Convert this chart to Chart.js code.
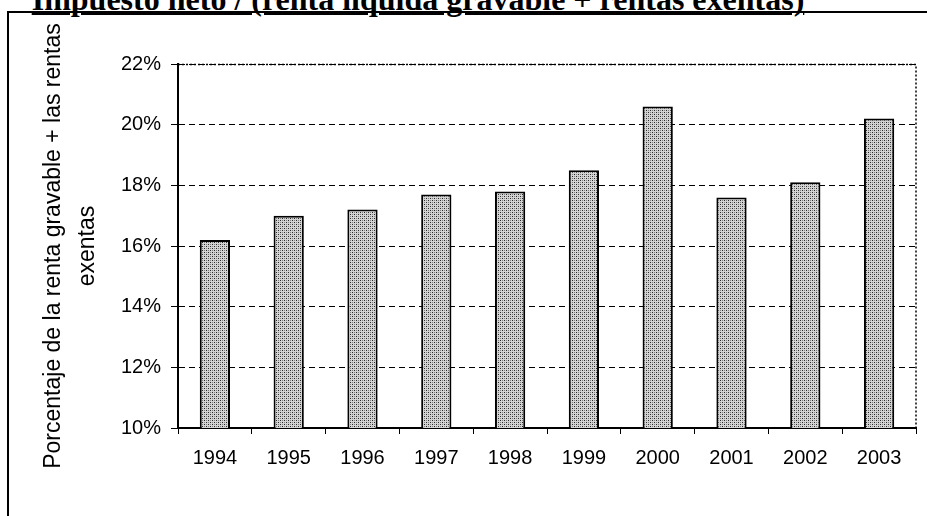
<!DOCTYPE html>
<html>
<head>
<meta charset="utf-8">
<script src="https://cdn.jsdelivr.net/npm/chart.js@4.4.0/dist/chart.umd.min.js"></script>
<style>
  body { margin: 0; background: #fff; }
  #wrap { position: relative; width: 927px; height: 516px; overflow: hidden; }
  #frame { position: absolute; left: 7px; top: 11px; width: 930px; height: 520px;
           border-top: 2px solid #000; border-left: 2px solid #000; }
  #titulo { position: absolute; left: 0; width: 836px; top: -17px; text-align: center;
            font: bold 32px "Liberation Serif", "Times New Roman", serif; line-height: 32px;
            color: #000; white-space: nowrap; text-decoration: underline; }
  canvas { position: absolute; left: 0; top: 0; }
</style>
</head>
<body>
<div id="wrap">
  <div id="titulo">Impuesto neto / (renta líquida gravable + rentas exentas)</div>
  <div id="frame"></div>
  <canvas id="grafico" width="927" height="516"></canvas>
</div>
<script>
const anos = ['1994', '1995', '1996', '1997', '1998', '1999', '2000', '2001', '2002', '2003'];
const porcentajes = [16.2, 17.0, 17.2, 17.7, 17.8, 18.5, 20.6, 17.6, 18.1, 20.2];
const tituloEjeY = ['Porcentaje de la renta gravable + las rentas', 'exentas'];

// trama punteada de las barras
function crearTrama() {
    const c = document.createElement('canvas');
    c.width = 4; c.height = 4;
    const g = c.getContext('2d');
    g.fillStyle = '#d4d4d4';
    g.fillRect(0, 0, 4, 4);
    g.fillStyle = '#2a2a2a';
    g.fillRect(0, 0, 1, 1);
    g.fillRect(2, 2, 1, 1);
    g.fillStyle = '#808080';
    g.fillRect(2, 0, 1, 1);
    g.fillRect(0, 2, 1, 1);
    return g.createPattern(c, 'repeat');
}

// borde punteado arriba y a la derecha del area del grafico
const bordePunteado = {
    id: 'bordePunteado',
    afterDraw(chart) {
        const { ctx, chartArea: a } = chart;
        ctx.save();
        ctx.strokeStyle = '#000';
        ctx.lineWidth = 1.5;
        ctx.setLineDash([2, 2]);
        ctx.beginPath();
        ctx.moveTo(a.left, a.top + 0.5);
        ctx.lineTo(a.right, a.top + 0.5);
        ctx.lineTo(a.right, a.bottom);
        ctx.stroke();
        ctx.restore();
    }
};

const ctx = document.getElementById('grafico').getContext('2d');
new Chart(ctx, {
    type: 'bar',
    data: {
        labels: anos,
        datasets: [{
            data: porcentajes,
            backgroundColor: crearTrama(),
            borderColor: '#000',
            borderWidth: 2,
            borderSkipped: 'bottom',
            barPercentage: 0.41,
            categoryPercentage: 1
        }]
    },
    options: {
        responsive: false,
        animation: false,
        layout: { padding: { left: 0, right: 11, top: 64, bottom: 0 } },
        plugins: { legend: { display: false }, tooltip: { enabled: false } },
        scales: {
            x: {
                afterFit: s => { s.height = 88; },
                grid: { drawOnChartArea: false, drawTicks: true, tickLength: 6, color: '#000', offset: true },
                border: { display: true, color: '#000', width: 2 },
                ticks: { color: '#000', padding: 12, font: { family: 'Liberation Sans, Arial', size: 20 } }
            },
            y: {
                min: 10,
                max: 22,
                afterFit: s => { s.width = 178; },
                ticks: {
                    stepSize: 2,
                    color: '#000',
                    padding: 10,
                    font: { family: 'Liberation Sans, Arial', size: 20 },
                    callback: v => v + '%'
                },
                grid: { color: '#000', lineWidth: 1, tickLength: 7 },
                border: { display: true, color: '#000', width: 2, dash: [6, 4] },
                title: {
                    display: true,
                    text: tituloEjeY,
                    color: '#000',
                    padding: { top: 36, bottom: 0 },
                    font: { family: 'Liberation Sans, Arial', size: 23, lineHeight: 1.5 }
                }
            }
        }
    },
    plugins: [bordePunteado]
});
</script>
</body>
</html>
